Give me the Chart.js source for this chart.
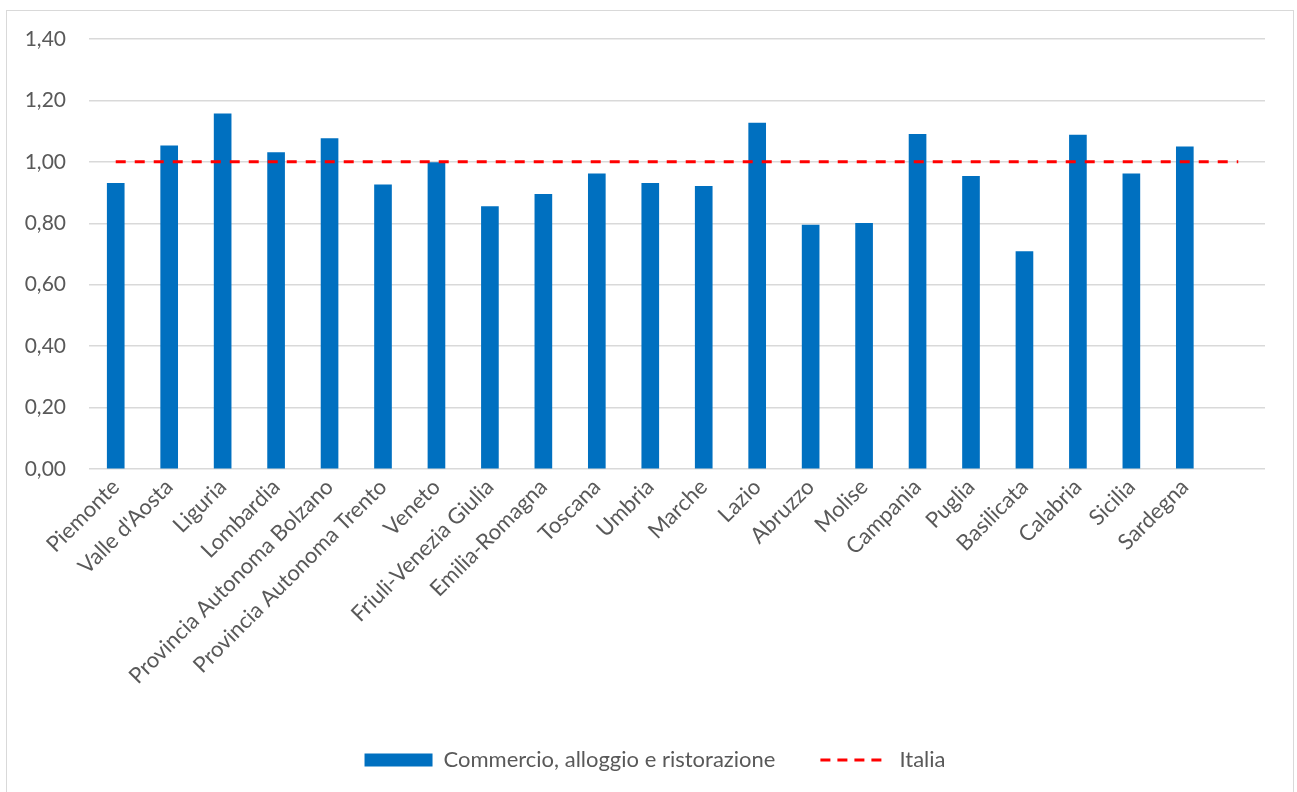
<!DOCTYPE html>
<html>
<head>
<meta charset="utf-8">
<script src="https://cdn.jsdelivr.net/npm/chart.js@4"></script>
<style>
  html, body { margin: 0; padding: 0; background: #ffffff; }
  #wrap { position: relative; width: 1297px; height: 792px; }
</style>
</head>
<body>
<div id="wrap"><canvas id="c" width="1297" height="792"></canvas></div>
<script>
const categories = ["Piemonte", "Valle d'Aosta", "Liguria", "Lombardia", "Provincia Autonoma Bolzano",
  "Provincia Autonoma Trento", "Veneto", "Friuli-Venezia Giulia", "Emilia-Romagna", "Toscana",
  "Umbria", "Marche", "Lazio", "Abruzzo", "Molise", "Campania", "Puglia", "Basilicata",
  "Calabria", "Sicilia", "Sardegna", ""];
const commercioValues = [0.93, 1.052, 1.156, 1.03, 1.076, 0.925, 0.998, 0.854, 0.894, 0.961,
  0.93, 0.92, 1.126, 0.794, 0.80, 1.09, 0.953, 0.708, 1.087, 0.961, 1.049, null];
const italiaValues = [1, 1, 1, 1, 1, 1, 1, 1, 1, 1, 1, 1, 1, 1, 1, 1, 1, 1, 1, 1, 1, 1];
const yTickValues = [0, 0.2, 0.4, 0.6, 0.8, 1.0, 1.2, 1.4];
const seriesNames = ["Commercio, alloggio e ristorazione", "Italia"];

const textColor = '#595959';
const fontFamily = 'Lato, "Liberation Sans", sans-serif';

const borderPlugin = {
  id: 'outerBorder',
  beforeDraw(chart) {
    const ctx = chart.ctx;
    ctx.save();
    ctx.fillStyle = '#ffffff';
    ctx.fillRect(0, 0, chart.width, chart.height);
    ctx.strokeStyle = '#d9d9d9';
    ctx.lineWidth = 1;
    ctx.strokeRect(6.5, 10.5, 1287, 800);
    ctx.restore();
  }
};

new Chart(document.getElementById('c'), {
  type: 'bar',
  data: {
    labels: categories,
    datasets: [
      {
        type: 'bar',
        label: seriesNames[0],
        data: commercioValues,
        backgroundColor: '#0070C0',
        borderWidth: 0,
        barThickness: 17,
        order: 2
      },
      {
        type: 'line',
        label: seriesNames[1],
        data: italiaValues,
        borderColor: '#FF0000',
        borderWidth: 3,
        borderDash: [10, 9],
        pointRadius: 0,
        fill: false,
        order: 1
      }
    ]
  },
  options: {
    responsive: false,
    animation: false,
    layout: { padding: { top: 39, left: 13, right: 0, bottom: 11 } },
    plugins: {
      tooltip: { enabled: false },
      legend: {
        position: 'bottom',
        labels: {
          usePointStyle: true,
          pointStyleWidth: 68,
          boxHeight: 13,
          padding: 45,
          color: textColor,
          font: { family: fontFamily, size: 22 },
          generateLabels() {
            return [
              { text: seriesNames[0], fillStyle: '#0070C0', strokeStyle: '#0070C0', lineWidth: 0, pointStyle: 'rect', fontColor: textColor },
              { text: seriesNames[1], fillStyle: 'rgba(0,0,0,0)', strokeStyle: '#FF0000', lineWidth: 3, lineDash: [10, 7], pointStyle: 'line', fontColor: textColor }
            ];
          }
        }
      }
    },
    scales: {
      x: {
        grid: { display: false, drawTicks: false },
        border: { display: false },
        ticks: {
          color: textColor,
          font: { family: fontFamily, size: 22 },
          maxRotation: 45,
          minRotation: 45,
          autoSkip: false,
          padding: 5
        },
        afterFit(s) { s.height = 235; }
      },
      y: {
        min: 0,
        max: 1.4,
        afterBuildTicks(s) { s.ticks = yTickValues.map(v => ({ value: v })); },
        grid: { color: '#d9d9d9', lineWidth: 1.5, drawTicks: false },
        border: { display: false },
        ticks: {
          color: textColor,
          font: { family: fontFamily, size: 21 },
          padding: 23,
          callback: v => v.toFixed(2).replace('.', ',')
        },
        afterFit(s) { s.width = 76; }
      },
      y2: {
        position: 'right',
        display: true,
        grid: { display: false, drawTicks: false },
        border: { display: false },
        ticks: { display: false },
        afterFit(s) { s.width = 32; }
      }
    }
  },
  plugins: [borderPlugin]
});
</script>
</body>
</html>
